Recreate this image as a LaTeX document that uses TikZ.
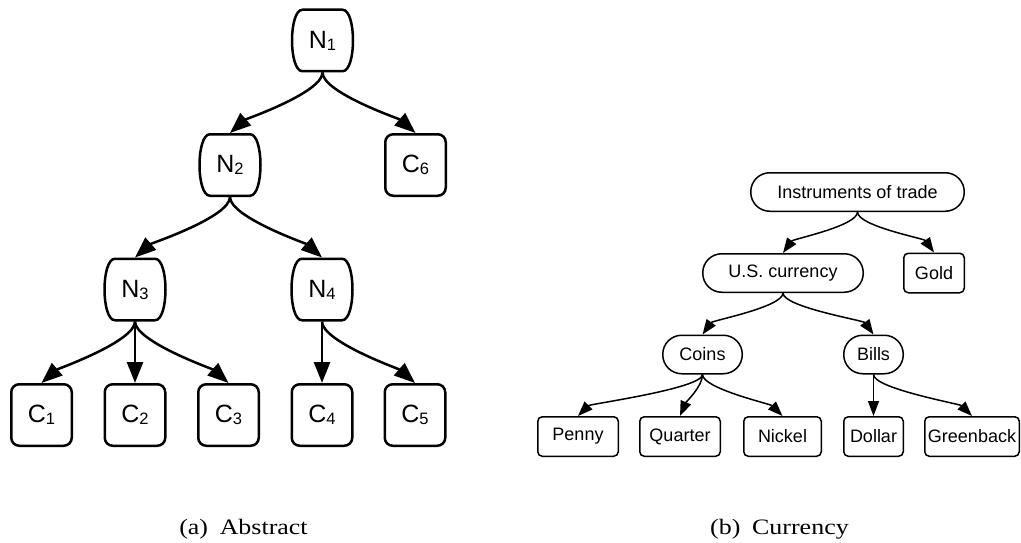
\documentclass[tikz,border=0pt]{standalone}
\usepackage{fontspec}
\setmainfont{Liberation Sans}
\newfontfamily\capfont{Liberation Serif}
\usetikzlibrary{arrows.meta,calc}
\newcommand\sub[1]{\raisebox{-2pt}{\fontsize{16.5}{16.5}\selectfont #1}}
\newcommand\barrel[4]{%
  \node[bnode] (#1) at (#2,#3) {#4};
  \begin{scope}[shift={(#1.center)}]
    \draw[thickline] (-20,-30.75) -- (20,-30.75)
      .. controls (34,-30.75) and (34,30.75) .. (20,30.75) -- (-20,30.75)
      .. controls (-34,30.75) and (-34,-30.75) .. cycle;
  \end{scope}}
\tikzset{
  thickline/.style={line width=2.5pt},
  bnode/.style={draw=none, minimum width=63pt, minimum height=64pt, inner sep=0pt, outer sep=0pt,
    font=\fontsize{25}{25}\selectfont},
  cnode/.style={draw, thickline, rounded corners=8pt, minimum width=60.5pt, minimum height=61.5pt,
    inner sep=0pt, font=\fontsize{25}{25}\selectfont},
  bigedge/.style={thickline, -{Triangle[length=21pt,width=16pt]}},
  thinline/.style={line width=1.5pt},
  stadium/.style={draw, thinline, rounded corners=19pt, minimum height=38.5pt, inner sep=0pt,
    font=\fontsize{18}{18}\selectfont},
  rbox/.style={draw, thinline, rounded corners=4.5pt, minimum height=39.5pt, inner sep=0pt,
    font=\fontsize{18}{18}\selectfont},
  smalledge/.style={thinline, -{Triangle[length=15pt,width=11pt]}},
  caption/.style={font=\capfont\fontsize{22}{22}\selectfont, anchor=base, inner sep=0pt}
}
\begin{document}
\begin{tikzpicture}[x=1pt,y=-1pt]
\useasboundingbox (0,0) rectangle (1021,543);
% ---------- (a) Abstract ----------
\barrel{N1}{322.5}{40.5}{N\sub{1}}
\barrel{N2}{230}{165}{N\sub{2}}
\barrel{N3}{135}{289.5}{N\sub{3}}
\barrel{N4}{322}{289.5}{N\sub{4}}
\node[cnode] (C6) at (415.5,165) {C\sub{6}};
\node[cnode] (C1) at (41.5,415) {C\sub{1}};
\node[cnode] (C2) at (135,415) {C\sub{2}};
\node[cnode] (C3) at (228.5,415) {C\sub{3}};
\node[cnode] (C4) at (322,415) {C\sub{4}};
\node[cnode] (C5) at (415,415) {C\sub{5}};
\draw[bigedge] (N1.south) .. controls +(0,20) and +(16,-14) .. (N2.north);
\draw[bigedge] (N1.south) .. controls +(0,20) and +(-16,-14) .. (C6.north);
\draw[bigedge] (N2.south) .. controls +(0,20) and +(16,-14) .. (N3.north);
\draw[bigedge] (N2.south) .. controls +(0,20) and +(-16,-14) .. (N4.north);
\draw[bigedge] (N3.south) .. controls +(0,20) and +(16,-14) .. (C1.north);
\draw[bigedge] (N3.south) -- (C2.north);
\draw[bigedge] (N3.south) .. controls +(0,20) and +(-16,-14) .. (C3.north);
\draw[bigedge] (N4.south) -- (C4.north);
\draw[bigedge] (N4.south) .. controls +(0,20) and +(-16,-14) .. (C5.north);
% ---------- (b) Currency ----------
\node[stadium, minimum width=213.5pt] (I) at (857.5,192) {Instruments of trade};
\node[stadium, minimum width=160.5pt] (U) at (783,273) {U.S. currency};
\node[rbox, minimum width=60.5pt] (G) at (934,273) {Gold};
\node[stadium, minimum width=79.5pt] (Co) at (702.5,354.5) {Coins};
\node[stadium, minimum width=59.5pt] (Bi) at (873.5,354.5) {Bills};
\node[rbox, minimum width=80.5pt] (P) at (578,436.5) {Penny};
\node[rbox, minimum width=80.5pt] (Q) at (680,436.5) {Quarter};
\node[rbox, minimum width=77.5pt] (Ni) at (782.5,436.5) {Nickel};
\node[rbox, minimum width=59.5pt] (D) at (873.5,436.5) {Dollar};
\node[rbox, minimum width=94.5pt] (Gr) at (972,436.5) {Greenback};
\draw[smalledge] (I.south) .. controls +(0,14) and +(10,-14) .. (U.north);
\draw[smalledge] (I.south) .. controls +(0,14) and +(-10,-14) .. (G.north);
\draw[smalledge] (U.south) .. controls +(0,14) and +(10,-14) .. (Co.north);
\draw[smalledge] (U.south) .. controls +(0,14) and +(-10,-14) .. (Bi.north);
\draw[smalledge] (Co.south) .. controls +(0,14) and +(12,-12) .. (P.north);
\draw[smalledge] (Co.south) .. controls +(0,12) and +(6,-14) .. (Q.north);
\draw[smalledge] (Co.south) .. controls +(0,14) and +(-12,-12) .. (Ni.north);
\draw[smalledge] (Bi.south) -- (D.north);
\draw[smalledge] (Bi.south) .. controls +(0,14) and +(-12,-12) .. (Gr.north);
% ---------- captions ----------
\node[caption] (capa) at (243.5,534) {\scalebox{1.18}[1]{(a)\hspace{0.45em}Abstract}};
\node[caption] (capb) at (779.5,534) {\scalebox{1.18}[1]{(b)\hspace{0.45em}Currency}};
\end{tikzpicture}
\end{document}
